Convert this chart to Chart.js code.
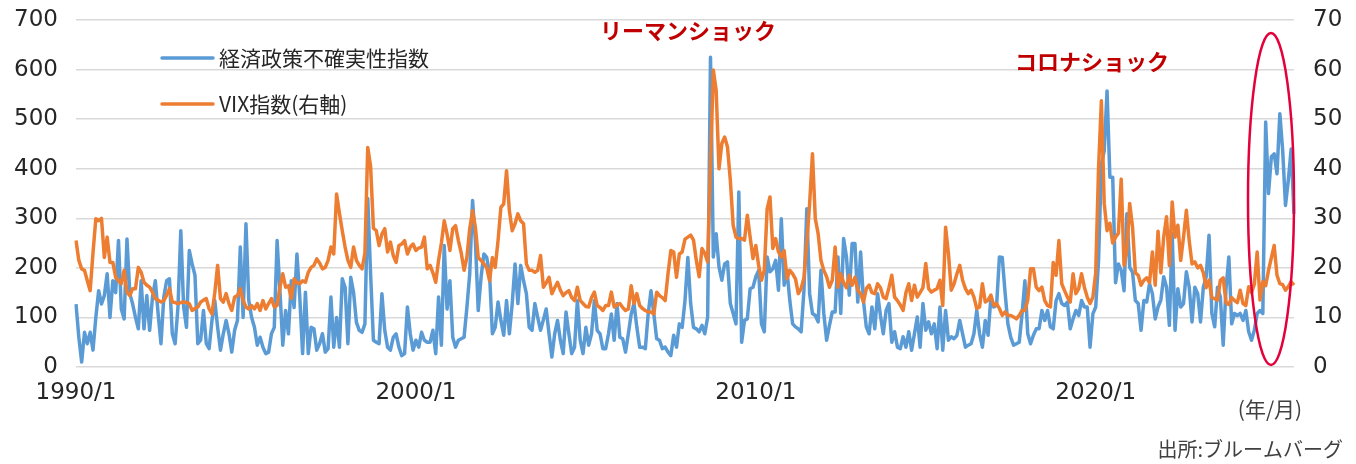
<!DOCTYPE html>
<html lang="ja">
<head>
<meta charset="utf-8">
<title>経済政策不確実性指数とVIX指数</title>
<script src="https://cdn.jsdelivr.net/npm/chart.js@4.4.1/dist/chart.umd.min.js"></script>
<style>
  html, body { margin: 0; padding: 0; background: #fff; }
  #wrap { width: 1356px; height: 464px; position: relative; }
</style>
</head>
<body>
<div id="wrap"><canvas id="chart" width="1356" height="464"></canvas></div>
<script>
// monthly data, 1990/1 .. 2025/11 (one row per year)
const epu = [
  127, 60, 10, 70, 47, 70, 34, 100, 154, 127, 144, 188,
  100, 174, 150, 255, 117, 97, 258, 148, 127, 100, 77, 174,
  77, 144, 74, 141, 174, 107, 47, 141, 174, 178, 67, 47,
  121, 275, 121, 80, 235, 208, 185, 47, 54, 114, 47, 37,
  94, 134, 80, 34, 67, 94, 67, 30, 74, 94, 242, 100,
  289, 134, 100, 80, 44, 60, 40, 27, 30, 67, 80, 255,
  154, 44, 114, 67, 174, 120, 228, 141, 27, 151, 27, 80,
  77, 34, 47, 67, 30, 37, 141, 40, 100, 40, 178, 161,
  47, 181, 150, 90, 74, 70, 87, 340, 188, 54, 50, 47,
  148, 74, 40, 34, 60, 67, 40, 23, 27, 121, 67, 34,
  54, 40, 70, 54, 50, 50, 74, 27, 141, 44, 245, 117,
  174, 60, 40, 54, 57, 60, 120, 188, 336, 255, 114, 181,
  228, 221, 188, 67, 80, 131, 94, 64, 134, 67, 128, 208,
  128, 205, 174, 148, 80, 74, 128, 100, 74, 95, 117, 67,
  20, 67, 94, 54, 27, 111, 67, 27, 40, 134, 54, 27,
  80, 44, 67, 134, 74, 67, 37, 37, 67, 107, 54, 128,
  60, 57, 30, 67, 107, 128, 80, 40, 40, 37, 107, 154,
  107, 57, 54, 37, 40, 30, 23, 64, 40, 87, 80, 134,
  221, 128, 80, 77, 71, 84, 67, 101, 625, 222, 269, 202,
  175, 208, 212, 128, 108, 87, 353, 50, 94, 97, 158, 161,
  182, 195, 87, 71, 222, 192, 198, 215, 155, 299, 165, 195,
  134, 87, 81, 77, 71, 155, 319, 148, 108, 104, 91, 195,
  108, 54, 84, 111, 111, 222, 108, 259, 222, 145, 249, 249,
  131, 232, 134, 81, 67, 121, 77, 148, 104, 67, 114, 128,
  50, 71, 40, 37, 61, 40, 71, 34, 67, 101, 40, 128,
  74, 91, 67, 87, 37, 121, 34, 114, 54, 61, 57, 64,
  94, 67, 40, 44, 47, 67, 114, 67, 40, 94, 64, 141,
  121, 124, 222, 221, 150, 87, 60, 44, 47, 50, 107, 174,
  67, 47, 64, 77, 77, 114, 94, 114, 81, 77, 134, 148,
  128, 124, 131, 77, 97, 114, 104, 134, 121, 121, 40, 107,
  121, 215, 409, 436, 557, 383, 383, 170, 208, 195, 154, 309,
  201, 191, 134, 128, 74, 134, 131, 168, 148, 97, 121, 135,
  182, 161, 84, 269, 74, 158, 121, 128, 192, 161, 91, 161,
  148, 91, 161, 182, 266, 108, 81, 161, 141, 44, 158, 222,
  87, 108, 104, 108, 94, 114, 71, 54, 74, 108, 114, 108,
  494, 350, 424, 430, 390, 511, 437, 326, 377, 440, 309
];

const vix = [
  25.5, 21.5, 19.8, 19.5, 17.4, 15.4, 23.0, 29.9, 29.5, 30.0, 22.1, 26.2,
  21.1, 21.1, 18.1, 17.4, 16.8, 19.5, 15.1, 14.4, 15.8, 15.8, 20.1, 19.1,
  17.1, 16.5, 16.1, 15.1, 13.8, 13.5, 13.1, 13.4, 14.5, 15.8, 13.1, 13.0,
  12.8, 13.0, 13.1, 13.0, 12.8, 11.4, 11.8, 12.1, 13.1, 13.5, 13.8, 11.7,
  10.7, 15.0, 20.5, 13.8, 13.1, 14.8, 12.8, 11.4, 14.1, 14.4, 15.8, 13.4,
  12.1, 11.7, 12.4, 11.7, 12.8, 11.4, 13.4, 11.7, 12.8, 13.8, 12.1, 12.4,
  16.1, 18.8, 16.1, 16.4, 13.8, 17.8, 17.0, 16.8, 17.4, 17.1, 19.1, 20.1,
  20.5, 21.8, 21.0, 19.8, 20.1, 21.5, 24.2, 22.8, 34.9, 31.0, 27.5, 24.2,
  21.5, 20.1, 24.2, 21.5, 20.5, 19.8, 23.0, 44.3, 40.5, 28.0, 27.5, 24.5,
  26.8, 27.9, 23.2, 25.2, 22.5, 21.1, 24.5, 24.8, 25.5, 22.8, 24.2, 24.8,
  23.5, 24.0, 24.2, 26.2, 19.8, 20.5, 19.0, 17.1, 21.5, 25.0, 29.5, 26.8,
  23.5, 27.9, 28.5, 25.5, 23.0, 19.5, 22.1, 27.9, 31.5, 28.2, 22.1, 21.5,
  20.8, 20.0, 17.4, 22.1, 20.1, 25.5, 32.2, 32.9, 39.6, 31.5, 27.5, 28.9,
  30.9, 29.5, 28.9, 20.8, 19.5, 19.5, 19.1, 19.5, 22.5, 16.1, 17.0, 18.1,
  14.8, 16.0, 17.1, 15.5, 14.4, 15.0, 15.4, 14.0, 13.4, 16.1, 13.4, 12.8,
  12.2, 12.1, 14.0, 15.1, 12.4, 12.0, 11.4, 12.4, 12.4, 15.1, 12.1, 12.5,
  12.8, 12.0, 11.4, 11.7, 16.4, 12.8, 14.8, 12.4, 11.8, 11.4, 11.1, 11.1,
  10.7, 15.1, 14.4, 14.0, 13.4, 18.8, 23.5, 23.2, 18.1, 22.8, 23.2, 25.8,
  26.2, 26.6, 25.6, 21.5, 18.2, 23.9, 22.9, 21.2, 41.0, 59.9, 55.8, 40.0,
  45.1, 46.4, 44.4, 37.7, 28.6, 26.2, 25.9, 25.9, 25.6, 30.6, 26.2, 21.9,
  24.5, 20.5, 17.5, 19.5, 31.9, 34.3, 23.9, 25.9, 23.2, 22.2, 23.5, 17.8,
  19.5, 18.8, 17.8, 14.8, 15.8, 18.0, 25.0, 33.0, 43.0, 29.9, 26.9, 21.5,
  19.5, 18.2, 16.1, 17.5, 24.2, 16.1, 18.8, 17.0, 16.0, 18.5, 16.5, 18.1,
  15.5, 14.8, 13.1, 15.8, 16.5, 15.0, 14.8, 16.8, 16.0, 14.1, 13.8, 16.0,
  18.5, 14.1, 13.4, 12.5, 11.4, 15.0, 16.8, 13.4, 16.5, 14.1, 15.0, 16.0,
  20.9, 15.8, 15.1, 15.5, 15.8, 17.5, 12.4, 28.2, 22.9, 15.5, 16.8, 18.8,
  20.5, 17.5, 15.8, 14.8, 15.5, 14.1, 11.8, 12.1, 16.8, 13.1, 13.5, 14.5,
  12.4, 12.8, 11.8, 10.4, 11.1, 10.4, 10.4, 10.1, 9.7, 10.4, 11.4, 11.4,
  13.5, 19.8, 19.8, 16.1, 15.4, 16.1, 13.4, 12.4, 12.1, 21.1, 18.5, 25.5,
  16.8, 15.4, 14.1, 13.1, 18.8, 14.8, 15.8, 18.8, 16.1, 14.1, 12.8, 14.1,
  19.0, 40.1, 53.7, 33.0, 27.5, 29.0, 25.0, 26.2, 27.0, 37.9, 20.5, 23.5,
  33.0, 28.2, 19.0, 18.5, 16.5, 17.5, 18.0, 17.0, 23.2, 16.5, 27.4, 19.0,
  26.2, 30.3, 20.5, 33.3, 26.2, 28.6, 21.5, 26.2, 31.6, 25.5, 20.8, 21.2,
  20.0, 20.5, 19.0, 16.0, 17.5, 14.0, 13.8, 13.5, 17.5, 18.0, 13.0, 12.6,
  14.0, 13.4, 13.0, 15.5, 12.8, 12.4, 16.2, 15.0, 16.7, 23.2, 13.5, 17.2,
  16.4, 19.5, 22.0, 24.5, 18.5, 16.8, 16.6, 15.5, 16.2, 17.2, 16.5
];

const xTickLabels = ['1990/1', '2000/1', '2010/1', '2020/1'];
const seriesNames = ['経済政策不確実性指数', 'VIX指数(右軸)'];
const notes = ['リーマンショック', 'コロナショック'];
const firstYear = 1990;

// category labels "YYYY/M"
const months = [];
for (let i = 0; i < epu.length; i++) {
  months.push(`${firstYear + Math.floor(i / 12)}/${(i % 12) + 1}`);
}

const BLUE = '#5B9BD5';
const ORANGE = '#ED7D31';
const TEXT = '#262626';
const GRID = '#d9d9d9';
const LINE_W = 3.5;
const tickFont = { family: '"DejaVu Sans", sans-serif', size: 23 };
const jpFont = '"Noto Sans CJK JP", sans-serif';

// legend, notes, circle and footer drawn on top
const overlay = {
  id: 'overlay',
  afterDraw(chart) {
    const ctx = chart.ctx;
    ctx.save();
    ctx.lineCap = 'round';
    ctx.textBaseline = 'middle';

    // legend
    const legend = [[BLUE, seriesNames[0], 58], [ORANGE, seriesNames[1], 104]];
    legend.forEach(([color, name, y]) => {
      ctx.strokeStyle = color;
      ctx.lineWidth = LINE_W;
      ctx.beginPath();
      ctx.moveTo(162, y);
      ctx.lineTo(213, y);
      ctx.stroke();
      ctx.fillStyle = TEXT;
      ctx.font = '21px ' + jpFont;
      ctx.textAlign = 'left';
      ctx.fillText(name, 219, y);
    });

    // event labels
    ctx.fillStyle = '#C00000';
    ctx.font = 'bold 22px ' + jpFont;
    ctx.fillText(notes[0], 600, 31);
    ctx.fillText(notes[1], 1015, 62);

    // red ellipse round the latest months
    ctx.strokeStyle = '#E4003A';
    ctx.lineWidth = 2.5;
    ctx.beginPath();
    ctx.ellipse(1271, 199, 23, 166, 0, 0, Math.PI * 2);
    ctx.stroke();

    // unit and source
    ctx.fillStyle = '#404040';
    ctx.font = '21px ' + jpFont;
    ctx.textAlign = 'center';
    ctx.fillText('(年/月)', 1270, 409);
    ctx.font = '20px ' + jpFont;
    ctx.textAlign = 'right';
    ctx.fillText('出所:ブルームバーグ', 1343, 449);
    ctx.restore();
  }
};

// fixed axis sizes so the plot area lands where the original has it
const fixY = (w) => (scale) => {
  scale.width = w;
  scale.paddingTop = 0;
  scale.paddingBottom = 0;
};

new Chart(document.getElementById('chart'), {
  type: 'line',
  data: {
    labels: months,
    datasets: [
      {
        label: seriesNames[0],
        data: epu,
        yAxisID: 'y',
        borderColor: BLUE,
        borderWidth: LINE_W,
        pointRadius: 0,
        tension: 0,
        borderJoinStyle: 'round',
        order: 2
      },
      {
        label: seriesNames[1],
        data: vix,
        yAxisID: 'y1',
        borderColor: ORANGE,
        borderWidth: LINE_W,
        pointRadius: 0,
        tension: 0,
        borderJoinStyle: 'round',
        order: 1
      }
    ]
  },
  options: {
    responsive: false,
    animation: false,
    devicePixelRatio: 1,
    layout: { padding: { top: 20, left: 0, right: 0, bottom: 0 } },
    plugins: {
      legend: { display: false },
      tooltip: { enabled: false }
    },
    scales: {
      x: {
        grid: { display: false },
        border: { display: false },
        ticks: {
          autoSkip: false,
          maxRotation: 0,
          minRotation: 0,
          padding: 4,
          color: TEXT,
          font: tickFont,
          callback: function (val) {
            const l = this.getLabelForValue(val);
            return xTickLabels.includes(l) ? l : null;
          }
        },
        afterFit: (scale) => {
          scale.height = 97;
          scale.paddingLeft = 0;
          scale.paddingRight = 0;
        }
      },
      y: {
        position: 'left',
        min: 0,
        max: 700,
        grid: { color: GRID, lineWidth: 1.5, drawTicks: false },
        border: { display: false },
        ticks: { stepSize: 100, padding: 18, color: TEXT, font: tickFont },
        afterFit: fixY(76)
      },
      y1: {
        position: 'right',
        min: 0,
        max: 70,
        grid: { drawOnChartArea: false, drawTicks: false },
        border: { display: false },
        ticks: { stepSize: 10, padding: 19, color: TEXT, font: tickFont },
        afterFit: fixY(62)
      }
    }
  },
  plugins: [overlay]
});
</script>
</body>
</html>
